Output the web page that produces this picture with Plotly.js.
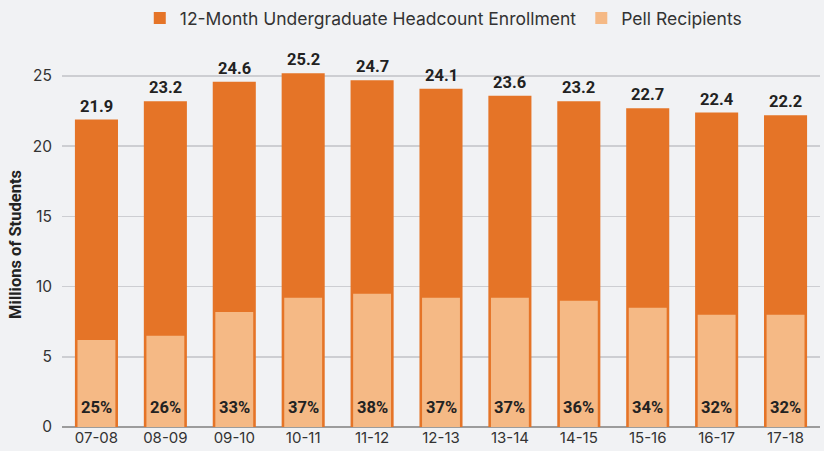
<!DOCTYPE html>
<html>
<head>
<meta charset="utf-8">
<script src="https://cdn.plot.ly/plotly-3.0.1.min.js"></script>
<style>
html,body{margin:0;padding:0;background:#f1f2f4;}
#chart{width:824px;height:451px;}
</style>
</head>
<body>
<div id="chart"></div>
<script>
const categories = ['07-08','08-09','09-10','10-11','11-12','12-13','13-14','14-15','15-16','16-17','17-18'];
const totalEnrollment = [21.9,23.2,24.6,25.2,24.7,24.1,23.6,23.2,22.7,22.4,22.2];
const pellRecipients = [6.2,6.5,8.2,9.2,9.5,9.2,9.2,9.0,8.5,8.0,8.0];
const pellShare = ['25%','26%','33%','37%','38%','37%','37%','36%','34%','32%','32%'];
const totalLabels = ['21.9','23.2','24.6','25.2','24.7','24.1','23.6','23.2','22.7','22.4','22.2'];

const ORANGE = '#E57427';
const LIGHT = '#F5B985';
const FONT = 'Roboto, Inter, "Liberation Sans", sans-serif';
const FONT2 = 'Inter, Roboto, "Liberation Sans", sans-serif';

const traces = [
  {type:'bar', name:'12-Month Undergraduate Headcount Enrollment', x:categories, y:totalEnrollment,
   marker:{color:ORANGE}, width:0.625, hoverinfo:'skip'},
  {type:'bar', name:'Pell Recipients', x:categories, y:pellRecipients,
   marker:{color:LIGHT}, width:0.55, hoverinfo:'skip'}
];

const annotations = [];
categories.forEach((c,i)=>{
  annotations.push({x:c, y:totalEnrollment[i], xref:'x', yref:'y', text:totalLabels[i],
    showarrow:false, yanchor:'bottom', yshift:2,
    font:{family:FONT, size:16.5, color:'#222', weight:'bold'}});
  annotations.push({x:c, y:0, xref:'x', yref:'y', text:pellShare[i],
    showarrow:false, yanchor:'bottom', yshift:8,
    font:{family:FONT, size:16.5, color:'#222', weight:'bold'}});
});

const layout = {
  width:824, height:451,
  paper_bgcolor:'#f1f2f4', plot_bgcolor:'#f1f2f4',
  margin:{l:62, r:4, t:62, b:24, pad:0},
  barmode:'overlay',
  font:{family:FONT2, color:'#333'},
  showlegend:true,
  legend:{orientation:'h', x:0.503, xanchor:'center', yref:'container', y:1.0, yanchor:'top',
    font:{family:FONT2, size:17.5, color:'#333'}, itemwidth:30, traceorder:'normal'},
  xaxis:{type:'category', range:[-0.5,10.5], showgrid:false, zeroline:false,
    showline:false, ticks:'', tickfont:{family:FONT2, size:15, color:'#333'}},
  yaxis:{range:[0,26], dtick:5, tick0:0, showgrid:true, gridcolor:'#cdced2', gridwidth:1.5,
    zeroline:true, zerolinecolor:'#9c9c9c', zerolinewidth:1.5, ticks:'', ticklabelstandoff:9,
    tickfont:{family:FONT2, size:15.5, color:'#333'},
    title:{text:'Millions of Students', standoff:6, font:{family:FONT, size:16.5, color:'#222', weight:'bold'}}},
  annotations:annotations
};

Plotly.newPlot('chart', traces, layout, {displayModeBar:false, staticPlot:true});
</script>
</body>
</html>
